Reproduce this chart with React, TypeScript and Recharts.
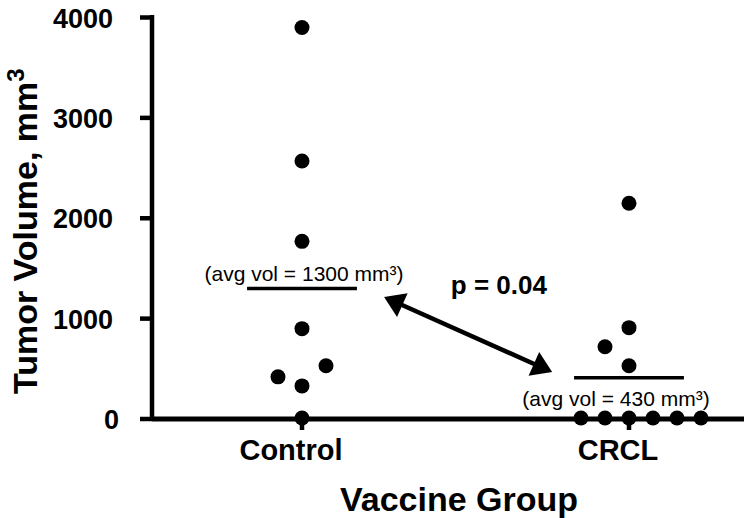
import React from 'react';
import {
    ScatterChart,
    Scatter,
    XAxis,
    YAxis,
    ReferenceLine,
    ReferenceDot,
    Label,
} from 'recharts';

const FONT = '"Liberation Sans", Arial, Helvetica, sans-serif';

// groups sit at x = 1 and x = 2, dots are nudged sideways in jitter steps
const groups = ['Control', 'CRCL'];
const controlVolumes = [3900, 2570, 1770, 900, 530, 420, 330, 10];
const controlSteps = [0, 0, 0, 0, 1, -1, 0, 0];
const crclVolumes = [2150, 910, 720, 530, 10, 10, 10, 10, 10, 10];
const crclSteps = [0, 0, -1, 0, -2, -1, 0, 1, 2, 3];
const meanLevels = [1300, 410];
const meanLabels = ['(avg vol = 1300 mm³)', '(avg vol = 430 mm³)'];
const yTicks = [0, 1000, 2000, 3000, 4000];
const pValueText = 'p = 0.04';
const arrowStart = { x: 1.251, y: 1215 };
const arrowEnd = { x: 1.765, y: 468 };
const pValuePos = { x: 1.602, y: 1245 };

const X_DOMAIN: [number, number] = [0.5413, 2.3517];
const JITTER = 0.0734;
const MEAN_HALF = 0.168;

// plot frame (px)
const CHART_W = 744;
const CHART_H = 518;
const TOP = 17.5;
const AXIS_LEFT = 152;
const AXIS_BOTTOM = 419;

const controlData = controlVolumes.map((v, i) => ({ x: 1 + controlSteps[i] * JITTER, y: v }));
const crclData = crclVolumes.map((v, i) => ({ x: 2 + crclSteps[i] * JITTER, y: v }));

const Dot = (props: any) => <circle cx={props.cx} cy={props.cy} r={7.5} fill="#000" />;

const CategoryTick = ({ x, payload }: any) => (
    <g>
        <line x1={x} y1={AXIS_BOTTOM} x2={x} y2={AXIS_BOTTOM + 11} stroke="#000" strokeWidth={4.5} />
        <text x={x - 11} y={460} textAnchor="middle" fontFamily={FONT} fontSize={29} fontWeight="bold" fill="#000">
            {groups[payload.value - 1]}
        </text>
    </g>
);

const ValueTick = ({ y, payload }: any) => (
    <g>
        <line x1={AXIS_LEFT - 12} y1={y} x2={AXIS_LEFT} y2={y} stroke="#000" strokeWidth={4.5} />
        <text
            x={payload.value === 0 ? 119 : 113}
            y={y}
            dy={10}
            textAnchor="end"
            fontFamily={FONT}
            fontSize={27}
            fontWeight="bold"
            fill="#000"
        >
            {payload.value}
        </text>
    </g>
);

const ArrowShape = (props: any) => {
    const { x1, y1, x2, y2 } = props;
    const dx = x2 - x1;
    const dy = y2 - y1;
    const len = Math.hypot(dx, dy);
    const ux = dx / len;
    const uy = dy / len;
    const nx = -uy;
    const ny = ux;
    const L = 20;
    const W = 13;
    const head = (tx: number, ty: number, s: number) =>
        `${tx},${ty} ${tx - s * L * ux + W * nx},${ty - s * L * uy + W * ny} ${tx - s * L * ux - W * nx},${ty - s * L * uy - W * ny}`;
    return (
        <g>
            <line x1={x1 + L * 0.8 * ux} y1={y1 + L * 0.8 * uy} x2={x2 - L * 0.8 * ux} y2={y2 - L * 0.8 * uy} stroke="#000" strokeWidth={4.5} />
            <polygon points={head(x2, y2, 1)} fill="#000" />
            <polygon points={head(x1, y1, -1)} fill="#000" />
        </g>
    );
};

export default function App() {
    return (
        <div style={{ position: 'absolute', left: 0, top: 0, background: '#fff' }}>
            <ScatterChart width={CHART_W} height={CHART_H} margin={{ top: TOP, right: 0, bottom: 0, left: 0 }}>
                <XAxis
                    type="number"
                    dataKey="x"
                    domain={X_DOMAIN}
                    ticks={[1, 2]}
                    height={CHART_H - AXIS_BOTTOM}
                    axisLine={false}
                    tickLine={false}
                    tick={<CategoryTick />}
                    interval={0}
                >
                    <Label
                        content={({ viewBox }: any) => (
                            <text
                                x={viewBox.x + viewBox.width / 2 + 11}
                                y={viewBox.y + 92}
                                textAnchor="middle"
                                fontFamily={FONT}
                                fontSize={34}
                                fontWeight="bold"
                                fill="#000"
                            >
                                Vaccine Group
                            </text>
                        )}
                    />
                </XAxis>
                <YAxis
                    type="number"
                    dataKey="y"
                    domain={[0, 4000]}
                    ticks={yTicks}
                    width={AXIS_LEFT}
                    axisLine={false}
                    tickLine={false}
                    tick={<ValueTick />}
                >
                    <Label
                        content={({ viewBox }: any) => {
                            const cx = 37;
                            const cy = viewBox.y + viewBox.height / 2 + 13;
                            return (
                                <text
                                    x={cx}
                                    y={cy}
                                    transform={`rotate(-90 ${cx} ${cy})`}
                                    textAnchor="middle"
                                    fontFamily={FONT}
                                    fontSize={34}
                                    fontWeight="bold"
                                    fill="#000"
                                >
                                    Tumor Volume, mm
                                    <tspan dy={-13} fontSize={24}>3</tspan>
                                </text>
                            );
                        }}
                    />
                </YAxis>

                {/* heavy axis lines */}
                <ReferenceLine
                    segment={[{ x: X_DOMAIN[0], y: 0 }, { x: X_DOMAIN[0], y: 4025 }]}
                    stroke="#000"
                    strokeWidth={4.5}
                    ifOverflow="visible"
                />
                <ReferenceLine y={0} stroke="#000" strokeWidth={5} />

                {meanLevels.map((m, i) => (
                    <ReferenceLine
                        key={`mean-${i}`}
                        segment={[
                            { x: i + 1 - MEAN_HALF, y: m },
                            { x: i + 1 + MEAN_HALF, y: m },
                        ]}
                        stroke="#000"
                        strokeWidth={3.5}
                        label={(p: any) => {
                            const vb = p.viewBox;
                            const above = i === 0;
                            return (
                                <text
                                    x={vb.x + vb.width / 2 + (above ? 2 : -13)}
                                    y={above ? vb.y - 8 : vb.y + 28}
                                    textAnchor="middle"
                                    fontFamily={FONT}
                                    fontSize={21}
                                    fill="#000"
                                >
                                    {meanLabels[i]}
                                </text>
                            );
                        }}
                    />
                ))}

                <ReferenceLine segment={[arrowStart, arrowEnd]} shape={ArrowShape} />
                <ReferenceDot
                    x={pValuePos.x}
                    y={pValuePos.y}
                    r={0}
                    fill="none"
                    stroke="none"
                    label={(p: any) => (
                        <text
                            x={p.viewBox.x + p.viewBox.width / 2}
                            y={p.viewBox.y + p.viewBox.height / 2}
                            textAnchor="middle"
                            fontFamily={FONT}
                            fontSize={26}
                            fontWeight="bold"
                            fill="#000"
                        >
                            {pValueText}
                        </text>
                    )}
                />

                <Scatter data={controlData} shape={Dot} isAnimationActive={false} />
                <Scatter data={crclData} shape={Dot} isAnimationActive={false} />
            </ScatterChart>
        </div>
    );
}
